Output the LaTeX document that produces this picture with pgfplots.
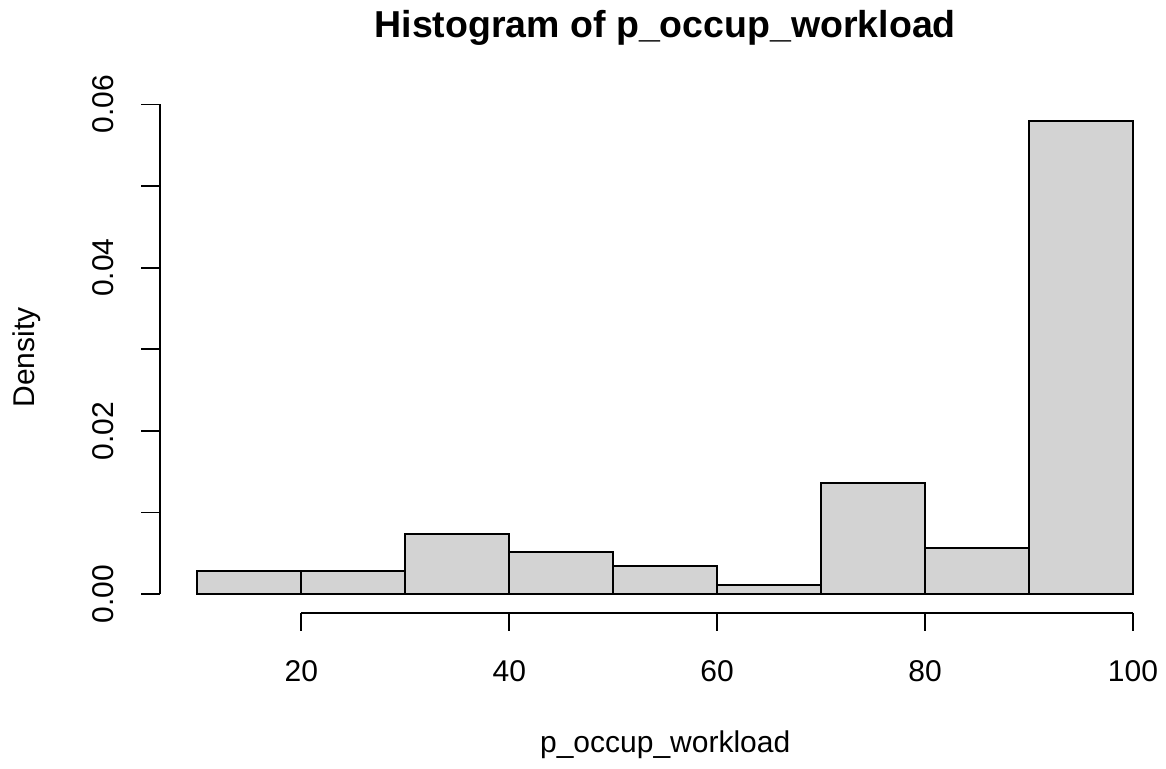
\documentclass[border=0pt]{standalone}
\usepackage{pgfplots}
\pgfplotsset{compat=1.18}
\usepackage{fontspec}
\setmainfont{Liberation Sans}
\definecolor{rlightgray}{HTML}{D3D3D3}
\begin{document}
\begin{tikzpicture}
\begin{axis}[
  at={(0,0)}, anchor=south west,
  scale only axis,
  width=404.16pt, height=204.28pt,
  xmin=6.4, xmax=103.6,
  ymin=-0.002318, ymax=0.060268,
  hide axis,
  clip=false,
]
\addplot[ybar interval, fill=rlightgray, draw=black, line width=0.75pt] table {
x y
10 0.002841
20 0.002841
30 0.007386
40 0.005114
50 0.003409
60 0.001136
70 0.013636
80 0.005682
90 0.057955
100 0.057955
};
% x axis
\draw[line width=0.75pt] (axis cs:20,-0.002318) -- (axis cs:100,-0.002318);
\pgfplotsinvokeforeach{20,40,60,80,100}{
  \draw[line width=0.75pt] (axis cs:#1,-0.002318) -- ([yshift=-7.4pt]axis cs:#1,-0.002318);
  \node[anchor=base, font=\fontsize{12}{14}\selectfont, inner sep=0pt] at ([yshift=-27.5pt]axis cs:#1,-0.002318) {#1};
}
% y axis
\draw[line width=0.75pt] (axis cs:6.4,0) -- (axis cs:6.4,0.06);
\pgfplotsinvokeforeach{0,0.01,0.02,0.03,0.04,0.05,0.06}{
  \draw[line width=0.75pt] (axis cs:6.4,#1) -- ([xshift=-7.4pt]axis cs:6.4,#1);
}
\pgfplotsinvokeforeach{0.00,0.02,0.04,0.06}{
  \node[anchor=base, rotate=90, font=\fontsize{12}{14}\selectfont, inner sep=0pt] at ([xshift=-18.4pt]axis cs:6.4,#1) {#1};
}
% labels
\node[anchor=base, rotate=90, font=\fontsize{12}{14}\selectfont, inner sep=0pt] at ([xshift=-50pt]rel axis cs:0,0.5) {Density};
\node[anchor=base, font=\fontsize{12}{14}\selectfont, inner sep=0pt] at ([yshift=-56pt]rel axis cs:0.5,0) {p\_occup\_workload};
\node[anchor=base, font=\bfseries\fontsize{15}{18}\selectfont, inner sep=0pt] at ([yshift=26.1pt]rel axis cs:0.5,1) {Histogram of p\_occup\_workload};
\end{axis}
\pgfresetboundingbox
\path[use as bounding box] (-64pt,-62.4pt) rectangle (402.4pt,245.2pt);
\end{tikzpicture}
\end{document}
